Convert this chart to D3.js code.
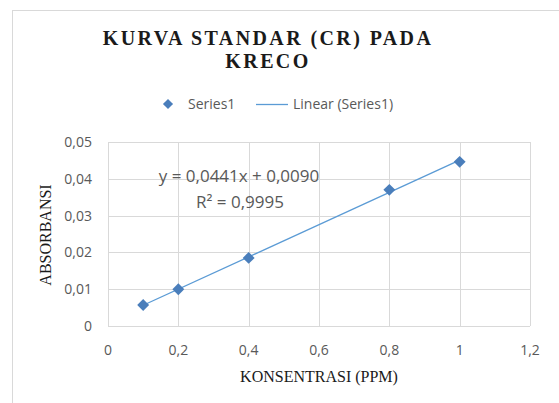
<!DOCTYPE html>
<html>
<head>
<meta charset="utf-8">
<script src="https://cdn.jsdelivr.net/npm/d3@7"></script>
<style>
  body { margin: 0; background: #fff; }
  svg { display: block; }
</style>
</head>
<body>
<div id="chart"></div>
<script>
// data
var concentrations = [0.1, 0.2, 0.4, 0.8, 1.0];
var absorbances = [0.0057, 0.0100, 0.0185, 0.0370, 0.0446];
var equationText = 'y = 0,0441x + 0,0090';
var r2Text = 'R\u00b2 = 0,9995';
var xTicks = [0, 0.2, 0.4, 0.6, 0.8, 1, 1.2];
var yTicks = [0, 0.01, 0.02, 0.03, 0.04, 0.05];

var width = 559, height = 403;
var margin = { top: 142, right: 29, bottom: 77, left: 108 };
var innerW = width - margin.left - margin.right,
    innerH = height - margin.top - margin.bottom;

var svg = d3.select('#chart').append('svg')
    .attr('width', width)
    .attr('height', height);

// chart frame
svg.append('rect')
    .attr('x', 12.5).attr('y', 10.5)
    .attr('width', 560).attr('height', 410)
    .attr('fill', 'none')
    .attr('stroke', '#d9d9d9');

var x = d3.scaleLinear().domain([0, 1.2]).range([0, innerW]);
var y = d3.scaleLinear().domain([0, 0.05]).range([innerH, 0]);
var fmt = function(d) { return String(d).replace('.', ','); };

var g = svg.append('g')
    .attr('transform', 'translate(' + margin.left + ',' + margin.top + ')');

// gridlines
g.selectAll('.hgrid').data(yTicks).enter().append('line')
    .attr('x1', 0).attr('x2', innerW)
    .attr('y1', function(d) { return Math.round(y(d)) + 0.5; })
    .attr('y2', function(d) { return Math.round(y(d)) + 0.5; })
    .attr('stroke', '#d9d9d9');
g.selectAll('.vgrid').data(xTicks).enter().append('line')
    .attr('y1', 0).attr('y2', innerH)
    .attr('x1', function(d) { return Math.round(x(d)) + 0.5; })
    .attr('x2', function(d) { return Math.round(x(d)) + 0.5; })
    .attr('stroke', '#d9d9d9');

// tick labels
g.selectAll('.ylab').data(yTicks).enter().append('text')
    .attr('x', -16)
    .attr('y', function(d) { return y(d); })
    .attr('dy', '0.35em')
    .attr('text-anchor', 'end')
    .attr('font-family', 'Open Sans, sans-serif')
    .attr('font-size', 14)
    .attr('fill', '#595959')
    .text(function(d) { return fmt(d); });
g.selectAll('.xlab').data(xTicks).enter().append('text')
    .attr('x', function(d) { return x(d); })
    .attr('y', innerH + 29)
    .attr('text-anchor', 'middle')
    .attr('font-family', 'Open Sans, sans-serif')
    .attr('font-size', 14)
    .attr('fill', '#595959')
    .text(function(d) { return fmt(d); });

// least-squares trendline through the points
var mx = d3.mean(concentrations), my = d3.mean(absorbances);
var sxy = d3.sum(concentrations, function(d, i) { return (d - mx) * (absorbances[i] - my); });
var sxx = d3.sum(concentrations, function(d) { return (d - mx) * (d - mx); });
var slope = sxy / sxx, intercept = my - slope * mx;
var xs = d3.extent(concentrations);
g.append('line')
    .attr('x1', x(xs[0])).attr('y1', y(slope * xs[0] + intercept))
    .attr('x2', x(xs[1])).attr('y2', y(slope * xs[1] + intercept))
    .attr('stroke', '#5b9bd5')
    .attr('stroke-width', 1.3);

// markers
var diamond = d3.symbol().type(d3.symbolDiamond2).size(90);
g.selectAll('.pt').data(concentrations).enter().append('path')
    .attr('d', diamond)
    .attr('transform', function(d, i) {
        return 'translate(' + x(d) + ',' + y(absorbances[i]) + ')';
    })
    .attr('fill', '#4a7ebb');

// equation label
var eq = svg.append('text')
    .attr('font-family', 'Open Sans, sans-serif')
    .attr('font-size', 17)
    .attr('fill', '#595959')
    .attr('text-anchor', 'middle');
eq.append('tspan').attr('x', 239).attr('y', 182).text(equationText);
eq.append('tspan').attr('x', 240).attr('y', 208).text(r2Text);

// title
var title = svg.append('text')
    .attr('text-anchor', 'middle')
    .attr('font-family', 'Liberation Serif, serif')
    .attr('font-weight', 'bold')
    .attr('font-size', 20)
    .attr('letter-spacing', 2.4)
    .attr('fill', '#1a1a1a');
title.append('tspan').attr('x', 268).attr('y', 45).text('KURVA STANDAR (CR) PADA');
title.append('tspan').attr('x', 268).attr('y', 68).text('KRECO');

// legend
svg.append('path')
    .attr('d', d3.symbol().type(d3.symbolDiamond2).size(65))
    .attr('transform', 'translate(168,104)')
    .attr('fill', '#4a7ebb');
svg.append('text')
    .attr('x', 188).attr('y', 109)
    .attr('font-family', 'Open Sans, sans-serif')
    .attr('font-size', 14)
    .attr('fill', '#595959')
    .text('Series1');
svg.append('line')
    .attr('x1', 256).attr('x2', 288)
    .attr('y1', 104.5).attr('y2', 104.5)
    .attr('stroke', '#5b9bd5')
    .attr('stroke-width', 1.3);
svg.append('text')
    .attr('x', 293).attr('y', 109)
    .attr('font-family', 'Open Sans, sans-serif')
    .attr('font-size', 14)
    .attr('fill', '#595959')
    .text('Linear (Series1)');

// axis titles
svg.append('text')
    .attr('x', 319).attr('y', 382)
    .attr('text-anchor', 'middle')
    .attr('font-family', 'Liberation Serif, serif')
    .attr('font-size', 16)
    .attr('fill', '#1a1a1a')
    .text('KONSENTRASI (PPM)');
svg.append('text')
    .attr('transform', 'translate(51,235) rotate(-90)')
    .attr('text-anchor', 'middle')
    .attr('font-family', 'Liberation Serif, serif')
    .attr('font-size', 16)
    .attr('fill', '#1a1a1a')
    .text('ABSORBANSI');
</script>
</body>
</html>
